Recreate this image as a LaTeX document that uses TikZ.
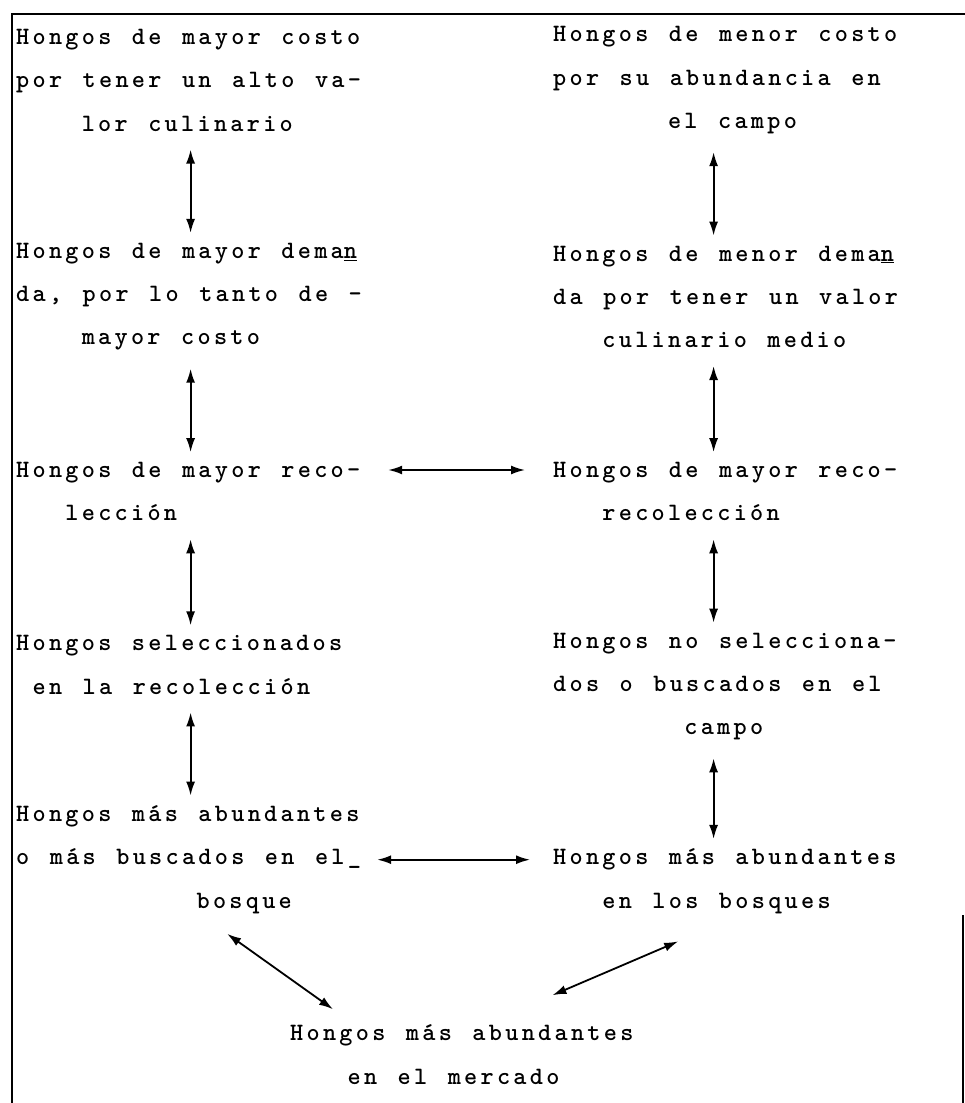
\documentclass[tikz,border=0pt]{standalone}
\usepackage{fontspec}
\usetikzlibrary{arrows.meta}
\newfontfamily\maquina{lmmonolt10-bold.otf}[LetterSpace=13.2, WordSpace=1.25]
\newlength\pas \setlength\pas{16.4pt}
\newcommand{\sangria}[1]{\hspace*{#1\pas}}
\begin{document}
\begin{tikzpicture}[x=1pt,y=-1pt]
\tikzstyle{hongo} = [anchor=west, inner sep=0pt, text width=22\pas, align=flush left, font={\maquina\fontsize{25}{43.3}\selectfont}] % bloque de texto
\tikzstyle{flecha} = [{Latex[length=14pt,width=9pt]}-{Latex[length=14pt,width=9pt]}, line width=1.8pt] % flecha doble
\tikzstyle{marco} = [line width=1.4pt]
\useasboundingbox (0,0) rectangle (965,1103);
% marco
\draw[marco] (12,1103) -- (12,14) -- (965,14);
\draw[marco] (963,915) -- (963,1103);
% columna izquierda
\node[hongo] (a1) at (16,80.3) {Hongos de mayor costo\\por tener un alto va-\\\sangria{4}lor culinario};
\node[hongo] (a2) at (16,296.8) {Hongos de mayor dema\underline{n}\\da, por lo tanto de -\\\sangria{4}mayor costo};
\node[hongo] (a3) at (16,491.7) {Hongos de mayor reco-\\\sangria{3}lección};
\node[hongo] (a4) at (16,664.9) {Hongos seleccionados\\\sangria{1}en la recolección};
\node[hongo] (a5) at (16,859.7) {Hongos más abundantes\\o más buscados en el\_\\\sangria{11}bosque};
% columna derecha
\node[hongo] (b1) at (553,80.3) {Hongos de menor costo\\por su abundancia en\\\sangria{7}el campo};
\node[hongo] (b2) at (553,296.8) {Hongos de menor dema\underline{n}\\da por tener un valor\\\sangria{3}culinario medio};
\node[hongo] (b3) at (553,491.7) {Hongos de mayor reco-\\\sangria{3}recolección};
\node[hongo] (b4) at (553,686.5) {Hongos no selecciona-\\dos o buscados en el\\\sangria{8}campo};
\node[hongo] (b5) at (553,881.4) {Hongos más abundantes\\\sangria{3}en los bosques};
% abajo
\node[hongo] (m) at (290,1054.6) {Hongos más abundantes\\\sangria{3.5}en el mercado};
% flechas verticales
\foreach \u/\v in {a1/a2,a2/a3,a3/a4,a4/a5}
  \draw[flecha, shorten <=18pt, shorten >=10pt] ([xshift=-6pt]\u.south) -- ([xshift=-6pt]\u.south |- \v.north);
\foreach \u/\v in {b1/b2,b2/b3,b3/b4,b4/b5}
  \draw[flecha, shorten <=18pt, shorten >=10pt] ([xshift=-20pt]\u.south) -- ([xshift=-20pt]\u.south |- \v.north);
% flechas horizontales
\draw[flecha, shorten <=11pt, shorten >=28pt] ([yshift=21.7pt]a3.east) -- ([yshift=21.7pt]b3.west);
\draw[flecha, shorten >=23pt] (a5.east) -- (a5.east -| b5.west);
% hacia el mercado
\draw[flecha] ([xshift=30.6pt,yshift=-20pt]a5.south) -- ([xshift=43pt,yshift=15.5pt]m.north west);
\draw[flecha] ([xshift=-55.4pt,yshift=-27.5pt]b5.south) -- ([xshift=-98.8pt,yshift=29.5pt]m.north east);
\end{tikzpicture}
\end{document}
